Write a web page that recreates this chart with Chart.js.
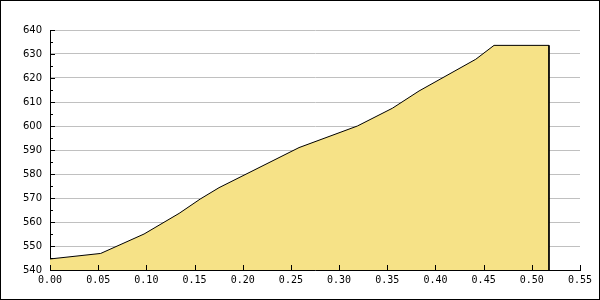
<!DOCTYPE html>
<html>
<head>
<meta charset="utf-8">
<script src="https://cdn.jsdelivr.net/npm/chart.js@4/dist/chart.umd.min.js"></script>
<style>
    html, body { margin: 0; padding: 0; background: #fff; }
    #wrap { width: 600px; height: 300px; }
</style>
</head>
<body>
<div id="wrap"><canvas id="chart" width="600" height="300"></canvas></div>
<script>
// ==================== DATA ====================

const xValues = [0, 0.0526, 0.0976, 0.134, 0.156, 0.1754, 0.2584, 0.319, 0.3553, 0.383, 0.4418, 0.4608, 0.5178, 0.5178];
const yValues = [544.6, 546.9, 555.0, 563.6, 569.6, 574.3, 591.0, 600.0, 607.4, 614.6, 627.8, 633.6, 633.6, 540];

const xTicks = [0, 0.05, 0.10, 0.15, 0.20, 0.25, 0.30, 0.35, 0.40, 0.45, 0.50, 0.55];
const yTicks = [540, 550, 560, 570, 580, 590, 600, 610, 620, 630, 640];
const yMinorTicks = [545, 555, 565, 575, 585, 595, 605, 615, 625, 635];

// ==================== PLUGINS ====================

// inward tick marks + outer frame
const tickMarks = {
    id: 'tickMarks',
    afterDraw(chart) {
        const ctx = chart.ctx;
        const x = chart.scales.x;
        const y = chart.scales.y;
        const left = chart.chartArea.left;
        const bottom = chart.chartArea.bottom;
        ctx.save();
        ctx.strokeStyle = '#000';
        ctx.lineWidth = 1;
        ctx.beginPath();
        yTicks.forEach(v => {
            const py = Math.round(y.getPixelForValue(v)) + 0.5;
            ctx.moveTo(left, py);
            ctx.lineTo(left + 5, py);
        });
        yMinorTicks.forEach(v => {
            const py = Math.round(y.getPixelForValue(v)) + 0.5;
            ctx.moveTo(left, py);
            ctx.lineTo(left + 3, py);
        });
        xTicks.forEach(v => {
            const px = Math.round(x.getPixelForValue(v)) + 0.5;
            ctx.moveTo(px, bottom);
            ctx.lineTo(px, bottom - 5);
        });
        ctx.stroke();
        ctx.strokeRect(0.5, 0.5, chart.width - 1, chart.height - 1);
        ctx.restore();
    }
};

// ==================== CHART ====================

const points = xValues.map((x, i) => ({ x: x, y: yValues[i] }));

new Chart(document.getElementById('chart'), {
    type: 'line',
    data: {
        datasets: [{
            data: points,
            borderColor: '#000',
            borderWidth: 1,
            backgroundColor: '#f6e287',
            fill: 'start',
            tension: 0,
            pointRadius: 0
        }]
    },
    options: {
        responsive: false,
        animation: false,
        layout: { padding: { left: 0, top: 30, right: 20, bottom: 0 } },
        plugins: {
            legend: { display: false },
            tooltip: { enabled: false }
        },
        scales: {
            x: {
                type: 'linear',
                min: 0,
                max: 0.55,
                afterFit: s => { s.height = 30; },
                afterBuildTicks: s => { s.ticks = xTicks.map(v => ({ value: v })); },
                ticks: {
                    color: '#000',
                    font: { family: 'DejaVu Sans Mono', size: 10 },
                    padding: 4,
                    maxRotation: 0,
                    autoSkip: false,
                    callback: v => v.toFixed(2)
                },
                grid: { drawOnChartArea: false, drawTicks: false },
                border: { display: true, color: '#000', width: 1 }
            },
            y: {
                min: 540,
                max: 640,
                afterFit: s => { s.width = 50; },
                afterBuildTicks: s => { s.ticks = yTicks.map(v => ({ value: v })); },
                ticks: {
                    color: '#000',
                    font: { family: 'DejaVu Sans', size: 10 },
                    padding: 8,
                    autoSkip: false
                },
                grid: { color: '#c0c0c0', lineWidth: 1, drawTicks: false },
                border: { display: true, color: '#000', width: 1 }
            }
        }
    },
    plugins: [tickMarks]
});
</script>
</body>
</html>
